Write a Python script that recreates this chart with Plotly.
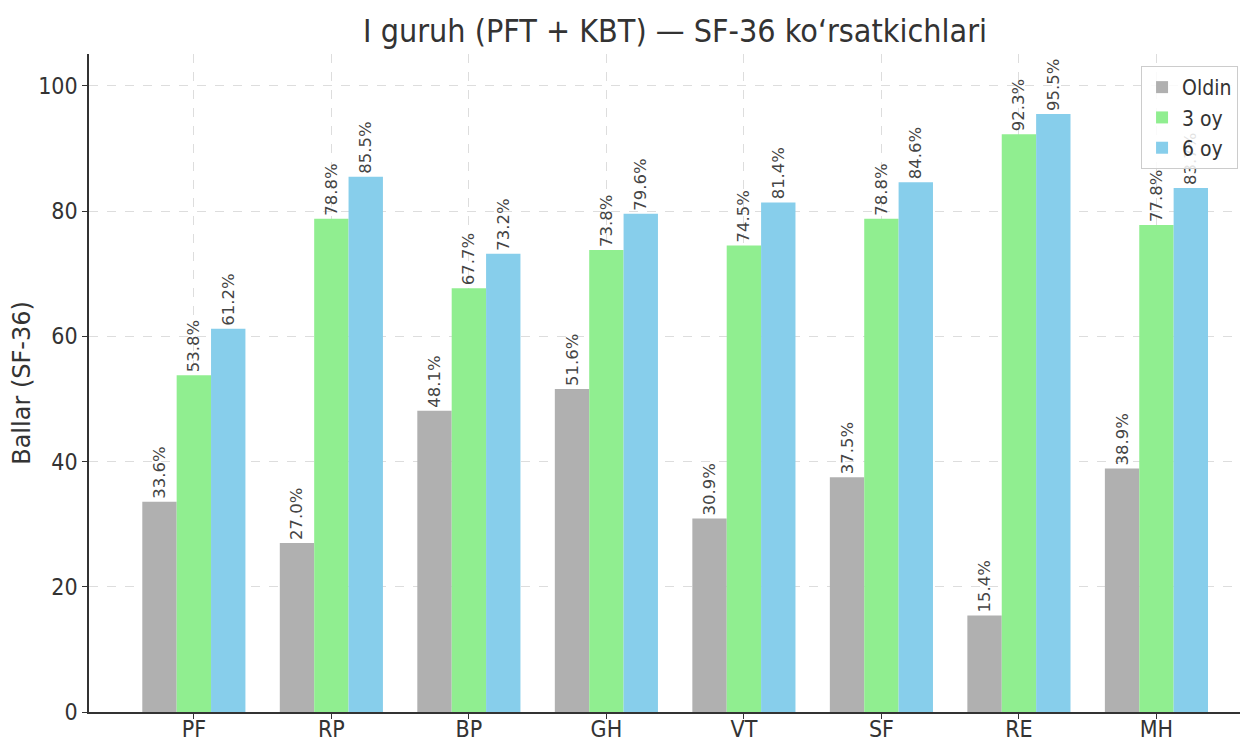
import plotly.graph_objects as go

categories = ["PF", "RP", "BP", "GH", "VT", "SF", "RE", "MH"]
oldin = [33.6, 27.0, 48.1, 51.6, 30.9, 37.5, 15.4, 38.9]
oy3 = [53.8, 78.8, 67.7, 73.8, 74.5, 78.8, 92.3, 77.8]
oy6 = [61.2, 85.5, 73.2, 79.6, 81.4, 84.6, 95.5, 83.7]
series_names = ["Oldin", "3 oy", "6 oy"]
colors = ["#B0B0B0", "#90EE90", "#87CEEB"]

COND = "DejaVu Sans Condensed, Liberation Sans Narrow, DejaVu Sans, sans-serif"

fig = go.Figure()
for name, vals, col in zip(series_names, [oldin, oy3, oy6], colors):
    fig.add_trace(go.Bar(
        x=categories, y=vals, name=name, marker_color=col, marker_line_width=0,
        text=[f"{v:.1f}%" for v in vals], textposition="outside", textangle=-90,
        textfont=dict(family="DejaVu Sans", size=16.5, color="#444444"),
        cliponaxis=False, constraintext="none",
    ))

fig.update_layout(
    width=1248, height=740,
    barmode="group", bargap=0.25, bargroupgap=0,
    plot_bgcolor="white", paper_bgcolor="white",
    margin=dict(l=81, r=0, t=46, b=36, autoexpand=False),
    title=dict(text="I guruh (PFT + KBT) — SF-36 ko‘rsatkichlari",
               x=667/1248, xanchor="center", y=1-23/740, yanchor="middle",
               font=dict(family=COND, size=32, color="#333333")),
    legend=dict(x=0.9015, xanchor="left", y=0.9818, yanchor="top",
                bgcolor="rgba(255,255,255,0.85)", bordercolor="#CCCCCC", borderwidth=1,
                font=dict(family=COND, size=21, color="#333333"),
                tracegroupgap=4),
    showlegend=True,
)
fig.update_xaxes(
    range=[-0.7625, 7.724], showline=True, linecolor="#333333", linewidth=1.5,
    ticks="outside", ticklen=5, tickcolor="#333333", automargin=False,
    ticklabelstandoff=-9,
    showgrid=True, gridcolor="#DDDDDD", griddash="dash", gridwidth=1,
    tickfont=dict(family=COND, size=23, color="#333333"),
)
fig.update_yaxes(
    range=[0, 105.1], showline=True, linecolor="#333333", linewidth=1.5,
    ticks="outside", ticklen=5, tickcolor="#333333", dtick=20, automargin=False,
    showgrid=True, gridcolor="#DDDDDD", griddash="dash", gridwidth=1, zeroline=False,
    tickfont=dict(family=COND, size=23, color="#333333"),
    title=dict(text="Ballar (SF-36)", font=dict(family="DejaVu Sans", size=24, color="#333333"), standoff=12),
)

fig.write_html("out.html")
